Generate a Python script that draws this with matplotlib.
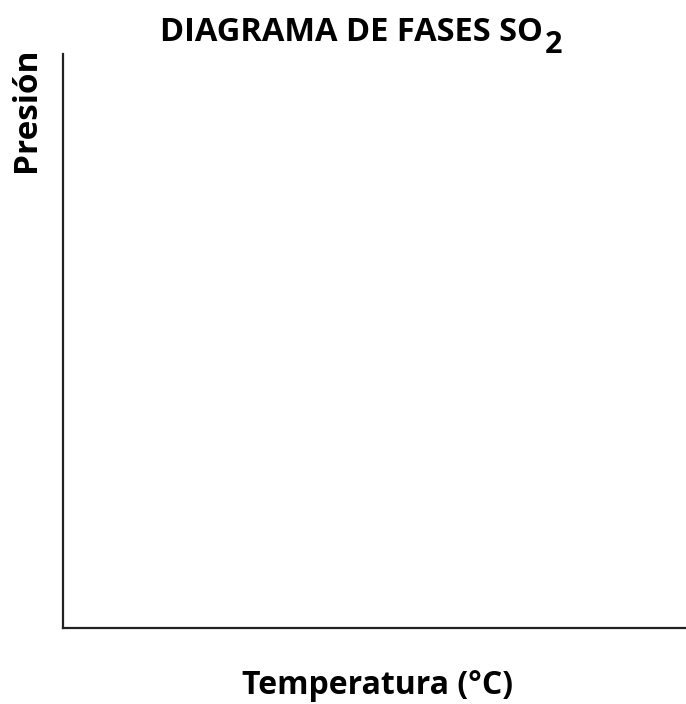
import matplotlib
matplotlib.use("Agg")
import matplotlib.pyplot as plt

# textos del diagrama (sin datos: ejes vacíos)
titulo = "DIAGRAMA DE FASES SO"
subindice = "2"
eje_x = "Temperatura (°C)"
eje_y = "Presión"

plt.rcParams["font.family"] = ["Open Sans", "DejaVu Sans"]
peso = "bold"

W, H = 686, 704
fig = plt.figure(figsize=(W / 100, H / 100), dpi=100)
ax = fig.add_axes([63 / W, (H - 628) / H, (W - 63) / W, (628 - 54) / H])
ax.spines["top"].set_visible(False)
ax.spines["right"].set_visible(False)
for s in ("left", "bottom"):
    ax.spines[s].set_linewidth(1.6)
    ax.spines[s].set_color("#222222")
ax.set_xticks([])
ax.set_yticks([])

t = fig.text(160 / W, 1 - 41 / H, titulo, ha="left", va="baseline",
             fontsize=23.5, fontweight=peso)
fig.canvas.draw()
bb = t.get_window_extent()
fig.text((bb.x1 + 2) / W, 1 - 53 / H, subindice, ha="left", va="baseline",
         fontsize=22, fontweight=peso)

fig.text(378 / W, 1 - 686 / H, eje_x, ha="center", va="center",
         fontsize=23, fontweight=peso)
fig.text(26 / W, 1 - 110 / H, eje_y, ha="center", va="center",
         rotation=90, fontsize=24, fontweight=peso)

fig.savefig("out.png", dpi=100, facecolor="white")
